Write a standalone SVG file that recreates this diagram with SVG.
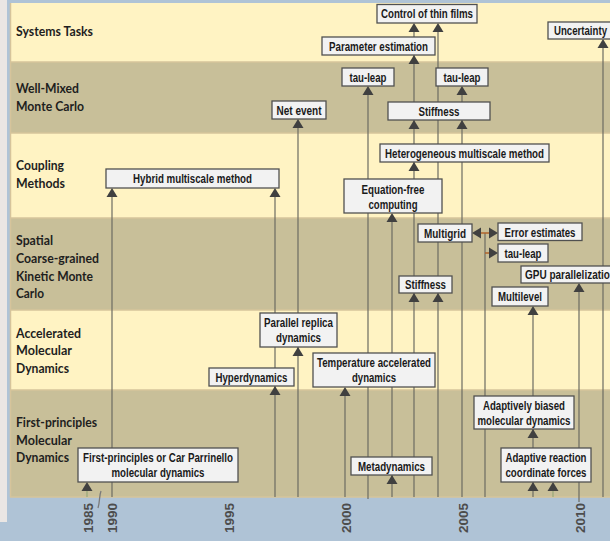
<svg xmlns="http://www.w3.org/2000/svg" xmlns:xlink="http://www.w3.org/1999/xlink" width="610" height="541" viewBox="0 0 610 541">
<style>
.lab{font-family:Lato,"Liberation Sans",sans-serif;font-weight:bold;font-size:13.5px;fill:#1e1e1e}
.box rect{fill:#f2f2f2;stroke:#505050;stroke-width:1.3}
.box text{font-family:"Liberation Sans",sans-serif;font-weight:bold;font-size:12px;fill:#1a1a1a;text-anchor:middle}
.ln{stroke:#6c6c62;stroke-width:1.2;fill:none}
.gl{stroke:#97a878;stroke-width:1.2;fill:none}
.br{stroke:#b0642c;stroke-width:1.5;fill:none}
.ah{fill:#404040}
.yr{font-family:"Liberation Sans",sans-serif;font-weight:bold;font-size:13.5px;fill:#4d4d4d;text-anchor:end}
</style>
<defs>
<path id="up" d="M0,0 L5.5,9 L-5.5,9 Z"/>
<path id="rt" d="M0,0 L-9,-5.5 L-9,5.5 Z"/>
<path id="lt" d="M0,0 L9,-5.5 L9,5.5 Z"/>
</defs>
<rect x="0" y="0" width="610" height="541" fill="#afc3d6"/>
<rect x="0" y="0" width="7" height="522" fill="#eae6e4"/>
<g id="bands">
<rect x="10" y="3" width="600" height="59" fill="#fff3c3"/>
<rect x="10" y="62" width="600" height="71" fill="#c8bf99"/>
<rect x="10" y="133" width="600" height="85" fill="#fff3c3"/>
<rect x="10" y="218" width="600" height="92" fill="#c8bf99"/>
<rect x="10" y="310" width="600" height="80" fill="#fff3c3"/>
<rect x="10" y="390" width="600" height="107" fill="#c8bf99"/>
<g stroke="#d6c49b" stroke-width="1.5">
<line x1="10" y1="62" x2="610" y2="62"/>
<line x1="10" y1="133" x2="610" y2="133"/>
<line x1="10" y1="218" x2="610" y2="218"/>
<line x1="10" y1="310" x2="610" y2="310"/>
<line x1="10" y1="390" x2="610" y2="390"/>
<line x1="10" y1="497" x2="610" y2="497"/>
<line x1="10.5" y1="3" x2="10.5" y2="497"/>
</g>
</g>
<g id="row-labels" style="font-kerning:normal">
<text class="lab" x="16" y="36" textLength="77" lengthAdjust="spacingAndGlyphs">Systems Tasks</text>
<text class="lab" x="16" y="93" textLength="63" lengthAdjust="spacingAndGlyphs">Well-Mixed</text>
<text class="lab" x="16" y="111" textLength="68" lengthAdjust="spacingAndGlyphs">Monte Carlo</text>
<text class="lab" x="16" y="170" textLength="48" lengthAdjust="spacingAndGlyphs">Coupling</text>
<text class="lab" x="16" y="188" textLength="49" lengthAdjust="spacingAndGlyphs">Methods</text>
<text class="lab" x="16" y="245" textLength="37" lengthAdjust="spacingAndGlyphs">Spatial</text>
<text class="lab" x="16" y="263" textLength="83" lengthAdjust="spacingAndGlyphs">Coarse-grained</text>
<text class="lab" x="16" y="281" textLength="77" lengthAdjust="spacingAndGlyphs">Kinetic Monte</text>
<text class="lab" x="16" y="298" textLength="28" lengthAdjust="spacingAndGlyphs">Carlo</text>
<text class="lab" x="16" y="338" textLength="65" lengthAdjust="spacingAndGlyphs">Accelerated</text>
<text class="lab" x="16" y="355" textLength="56" lengthAdjust="spacingAndGlyphs">Molecular</text>
<text class="lab" x="16" y="373" textLength="53" lengthAdjust="spacingAndGlyphs">Dynamics</text>
<text class="lab" x="16" y="427" textLength="81" lengthAdjust="spacingAndGlyphs">First-principles</text>
<text class="lab" x="16" y="445" textLength="56" lengthAdjust="spacingAndGlyphs">Molecular</text>
<text class="lab" x="16" y="462" textLength="53" lengthAdjust="spacingAndGlyphs">Dynamics</text>
</g>
<g id="axis">
<text class="yr" transform="translate(88,503) rotate(-90)" dy="0.36em">1985</text>
<text class="yr" transform="translate(112,503) rotate(-90)" dy="0.36em">1990</text>
<text class="yr" transform="translate(229,503) rotate(-90)" dy="0.36em">1995</text>
<text class="yr" transform="translate(346,503) rotate(-90)" dy="0.36em">2000</text>
<text class="yr" transform="translate(463,503) rotate(-90)" dy="0.36em">2005</text>
<text class="yr" transform="translate(580,503) rotate(-90)" dy="0.36em">2010</text>
<path d="M101,491 C99,496 100,502 98,508" stroke="#7a7a7a" stroke-width="1.3" fill="none"/>
</g>
<g id="connectors">
<line class="gl" x1="87" y1="490" x2="87" y2="497"/>
<line class="ln" x1="112" y1="497" x2="112" y2="196"/>
<line class="ln" x1="275" y1="497" x2="275" y2="196"/>
<line class="ln" x1="298" y1="497" x2="298" y2="127"/>
<line class="ln" x1="345" y1="497" x2="345" y2="395"/>
<line class="ln" x1="368" y1="499" x2="368" y2="94"/>
<line class="ln" x1="392" y1="497" x2="392" y2="222"/>
<line class="ln" x1="414" y1="497" x2="414" y2="31"/>
<line class="ln" x1="438" y1="497" x2="438" y2="31"/>
<line class="ln" x1="462" y1="497" x2="462" y2="94"/>
<line class="ln" x1="485" y1="497" x2="485" y2="233"/>
<line class="ln" x1="533" y1="497" x2="533" y2="314"/>
<line class="gl" x1="553" y1="490" x2="553" y2="497"/>
<line class="ln" x1="579" y1="502" x2="579" y2="292"/>
<line class="ln" x1="603" y1="497" x2="603" y2="48"/>
<line class="br" x1="480" y1="233" x2="490" y2="233"/>
<line class="br" x1="485" y1="253" x2="490" y2="253"/>
<g class="ah">
<use xlink:href="#up" x="87" y="482"/>
<use xlink:href="#up" x="112" y="188"/>
<use xlink:href="#up" x="275" y="386"/>
<use xlink:href="#up" x="275" y="188"/>
<use xlink:href="#up" x="298" y="347"/>
<use xlink:href="#up" x="298" y="119"/>
<use xlink:href="#up" x="345" y="387"/>
<use xlink:href="#up" x="368" y="86"/>
<use xlink:href="#up" x="392" y="475"/>
<use xlink:href="#up" x="392" y="213"/>
<use xlink:href="#up" x="414" y="293"/>
<use xlink:href="#up" x="414" y="162"/>
<use xlink:href="#up" x="414" y="120"/>
<use xlink:href="#up" x="414" y="55"/>
<use xlink:href="#up" x="414" y="23"/>
<use xlink:href="#up" x="438" y="293"/>
<use xlink:href="#up" x="438" y="23"/>
<use xlink:href="#up" x="462" y="86"/>
<use xlink:href="#up" x="462" y="120"/>
<use xlink:href="#up" x="533" y="429"/>
<use xlink:href="#up" x="533" y="306"/>
<use xlink:href="#up" x="533" y="482"/>
<use xlink:href="#up" x="553" y="482"/>
<use xlink:href="#up" x="579" y="283"/>
<use xlink:href="#up" x="603" y="39"/>
<use xlink:href="#lt" x="472" y="233"/>
<use xlink:href="#rt" x="498" y="233"/>
<use xlink:href="#rt" x="498" y="253"/>
</g>
</g>
<g id="control-thin-films" class="box"><rect x="377" y="4.5" width="100" height="18.5"/><text x="427" y="18" textLength="92" lengthAdjust="spacingAndGlyphs">Control of thin films</text></g>
<g id="parameter-estimation" class="box"><rect x="322" y="37" width="113" height="18"/><text x="378.5" y="50.5" textLength="99" lengthAdjust="spacingAndGlyphs">Parameter estimation</text></g>
<g id="uncertainty" class="box"><rect x="548" y="22" width="70" height="17"/><text x="554" y="35" style="text-anchor:start" textLength="53" lengthAdjust="spacingAndGlyphs">Uncertainty</text></g>
<g id="tau-leap-1" class="box"><rect x="342" y="68" width="52" height="18"/><text x="368" y="81.5" textLength="37" lengthAdjust="spacingAndGlyphs">tau-leap</text></g>
<g id="tau-leap-2" class="box"><rect x="436" y="68" width="52" height="18"/><text x="462" y="81.5" textLength="37" lengthAdjust="spacingAndGlyphs">tau-leap</text></g>
<g id="net-event" class="box"><rect x="272" y="101" width="54" height="18"/><text x="299" y="114.5" textLength="45" lengthAdjust="spacingAndGlyphs">Net event</text></g>
<g id="stiffness-1" class="box"><rect x="388" y="102" width="102" height="18"/><text x="439" y="115.5" textLength="41" lengthAdjust="spacingAndGlyphs">Stiffness</text></g>
<g id="heterogeneous" class="box"><rect x="380" y="144" width="169" height="18"/><text x="464.5" y="157.5" textLength="159" lengthAdjust="spacingAndGlyphs">Heterogeneous multiscale method</text></g>
<g id="hybrid" class="box"><rect x="106" y="169" width="173" height="19"/><text x="192.5" y="182.5" textLength="119" lengthAdjust="spacingAndGlyphs">Hybrid multiscale method</text></g>
<g id="equation-free" class="box"><rect x="344" y="179" width="98" height="34"/><text x="393" y="194" textLength="63" lengthAdjust="spacingAndGlyphs">Equation-free</text><text x="393" y="209" textLength="49" lengthAdjust="spacingAndGlyphs">computing</text></g>
<g id="multigrid" class="box"><rect x="418" y="224" width="54" height="18"/><text x="445" y="237.5" textLength="42" lengthAdjust="spacingAndGlyphs">Multigrid</text></g>
<g id="error-estimates" class="box"><rect x="498" y="223" width="84" height="17.5"/><text x="540" y="236.5" textLength="71" lengthAdjust="spacingAndGlyphs">Error estimates</text></g>
<g id="tau-leap-3" class="box"><rect x="498" y="244" width="50" height="18"/><text x="523" y="257.5" textLength="37" lengthAdjust="spacingAndGlyphs">tau-leap</text></g>
<g id="gpu" class="box"><rect x="521" y="266" width="99" height="17"/><text x="525" y="279" style="text-anchor:start" textLength="91" lengthAdjust="spacingAndGlyphs">GPU parallelization</text></g>
<g id="stiffness-2" class="box"><rect x="399" y="276" width="53" height="17"/><text x="425.5" y="289" textLength="41" lengthAdjust="spacingAndGlyphs">Stiffness</text></g>
<g id="multilevel" class="box"><rect x="492" y="287" width="56" height="19"/><text x="520" y="301" textLength="44" lengthAdjust="spacingAndGlyphs">Multilevel</text></g>
<g id="parallel-replica" class="box"><rect x="260" y="313" width="77" height="34"/><text x="298.5" y="327" textLength="69" lengthAdjust="spacingAndGlyphs">Parallel replica</text><text x="298.5" y="341.5" textLength="45" lengthAdjust="spacingAndGlyphs">dynamics</text></g>
<g id="hyperdynamics" class="box"><rect x="209" y="368" width="85" height="18"/><text x="251.5" y="381.5" textLength="72" lengthAdjust="spacingAndGlyphs">Hyperdynamics</text></g>
<g id="temperature" class="box"><rect x="313" y="353" width="122" height="34"/><text x="374" y="366.5" textLength="114" lengthAdjust="spacingAndGlyphs">Temperature accelerated</text><text x="374" y="382" textLength="44" lengthAdjust="spacingAndGlyphs">dynamics</text></g>
<g id="adaptively-biased" class="box"><rect x="474" y="396" width="100" height="33"/><text x="524" y="410" textLength="82" lengthAdjust="spacingAndGlyphs">Adaptively biased</text><text x="524" y="424.5" textLength="93" lengthAdjust="spacingAndGlyphs">molecular dynamics</text></g>
<g id="first-principles" class="box"><rect x="78" y="448" width="160" height="34"/><text x="158" y="461.5" textLength="150" lengthAdjust="spacingAndGlyphs">First-principles or Car Parrinello</text><text x="158" y="477" textLength="93" lengthAdjust="spacingAndGlyphs">molecular dynamics</text></g>
<g id="metadynamics" class="box"><rect x="351" y="457" width="81" height="18"/><text x="391.5" y="470.5" textLength="67" lengthAdjust="spacingAndGlyphs">Metadynamics</text></g>
<g id="adaptive-reaction" class="box"><rect x="501" y="448" width="90" height="34"/><text x="546" y="461.5" textLength="81" lengthAdjust="spacingAndGlyphs">Adaptive reaction</text><text x="546" y="477" textLength="81" lengthAdjust="spacingAndGlyphs">coordinate forces</text></g>
</svg>
